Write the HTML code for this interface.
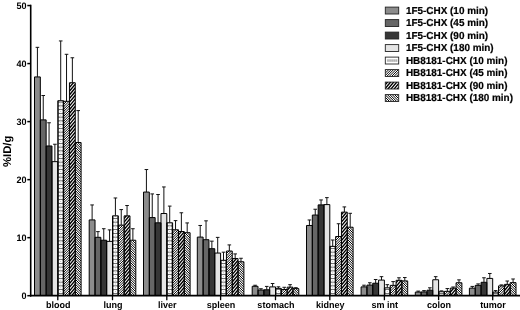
<!DOCTYPE html>
<html><head><meta charset="utf-8"><title>%ID/g biodistribution chart</title>
<style>
html,body{margin:0;padding:0;background:#fff}
body{width:520px;height:310px;overflow:hidden}
svg text{text-rendering:geometricPrecision;font-family:"Liberation Sans",Arial,Helvetica,sans-serif;font-weight:bold;fill:#000}
.t{font-size:9.3px}
.yl{font-size:11.3px}
.lg{font-size:10.2px;stroke:#000;stroke-width:0.2px}
</style></head><body>
<svg width="520" height="310" viewBox="0 0 520 310" style="display:block">
<defs>
<pattern id="p5" patternUnits="userSpaceOnUse" x="0" y="0.9" width="5.825" height="3.85"><rect width="5.825" height="3.85" fill="#fff"/><rect x="1.3" y="0" width="3.3" height="0.75" fill="#777"/><rect x="2.45" y="1.95" width="0.95" height="0.8" fill="#999"/></pattern>
<pattern id="p5l" patternUnits="userSpaceOnUse" x="386.6" y="0" width="1.9" height="12.5"><rect width="1.9" height="12.5" fill="#fff"/><rect x="0.3" y="0" width="1.1" height="12.5" fill="#888"/></pattern>
<clipPath id="c4"><rect x="57.80" y="100.72" width="5.83" height="194.98"/><rect x="112.50" y="215.85" width="5.83" height="79.85"/><rect x="166.80" y="222.81" width="5.83" height="72.89"/><rect x="220.60" y="260.30" width="5.83" height="35.40"/><rect x="275.50" y="288.39" width="5.83" height="7.31"/><rect x="329.80" y="246.37" width="5.83" height="49.33"/><rect x="384.40" y="287.87" width="5.83" height="7.83"/><rect x="438.60" y="291.75" width="5.83" height="3.95"/><rect x="492.70" y="292.10" width="5.83" height="3.60"/></clipPath>
<clipPath id="c5"><rect x="63.62" y="101.30" width="5.83" height="194.40"/><rect x="118.33" y="225.14" width="5.83" height="70.56"/><rect x="172.62" y="229.78" width="5.83" height="65.92"/><rect x="226.43" y="251.02" width="5.83" height="44.68"/><rect x="281.32" y="289.49" width="5.83" height="6.21"/><rect x="335.62" y="236.51" width="5.83" height="59.19"/><rect x="390.23" y="285.37" width="5.83" height="10.33"/><rect x="444.43" y="291.35" width="5.83" height="4.35"/><rect x="498.52" y="285.89" width="5.83" height="9.81"/><rect x="385.30" y="69.60" width="13.40" height="6.90"/></clipPath>
<clipPath id="c6"><rect x="69.45" y="82.73" width="5.83" height="212.97"/><rect x="124.15" y="215.85" width="5.83" height="79.85"/><rect x="178.45" y="231.52" width="5.83" height="64.18"/><rect x="232.25" y="258.56" width="5.83" height="37.14"/><rect x="287.15" y="287.17" width="5.83" height="8.53"/><rect x="341.45" y="212.14" width="5.83" height="83.56"/><rect x="396.05" y="280.32" width="5.83" height="15.38"/><rect x="450.25" y="288.16" width="5.83" height="7.54"/><rect x="504.35" y="284.38" width="5.83" height="11.32"/><rect x="385.30" y="82.10" width="13.40" height="6.90"/></clipPath>
<clipPath id="c7"><rect x="75.28" y="142.50" width="5.83" height="153.20"/><rect x="129.97" y="240.22" width="5.83" height="55.48"/><rect x="184.28" y="232.68" width="5.83" height="63.02"/><rect x="238.08" y="261.75" width="5.83" height="33.95"/><rect x="292.97" y="288.62" width="5.83" height="7.08"/><rect x="347.27" y="227.22" width="5.83" height="68.48"/><rect x="401.88" y="280.90" width="5.83" height="14.80"/><rect x="456.07" y="282.76" width="5.83" height="12.94"/><rect x="510.17" y="282.64" width="5.83" height="13.06"/><rect x="385.30" y="94.60" width="13.40" height="6.90"/></clipPath>
</defs>
<rect width="520" height="310" fill="#fff"/>
<path d="M37.41 76.93V47.33M35.61 47.33H39.21M43.24 119.87V95.50M41.44 95.50H45.04M49.06 145.98V122.77M47.26 122.77H50.86M54.89 161.65V144.24M53.09 144.24H56.69M60.71 100.72V40.95M58.91 40.95H62.51M66.54 101.30V54.30M64.74 54.30H68.34M72.36 82.73V57.78M70.56 57.78H74.16M78.19 142.50V110.58M76.39 110.58H79.99M92.11 219.91V204.94M90.31 204.94H93.91M97.94 237.32V231.63M96.14 231.63H99.74M103.76 240.22V228.73M101.96 228.73H105.56M109.59 241.38V229.89M107.79 229.89H111.39M115.41 215.85V197.98M113.61 197.98H117.21M121.24 225.14V209.58M119.44 209.58H123.04M127.06 215.85V205.52M125.26 205.52H128.86M132.89 240.22V228.73M131.09 228.73H134.69M146.41 192.06V169.54M144.61 169.54H148.21M152.24 217.59V193.92M150.44 193.92H154.04M158.06 222.81V194.50M156.26 194.50H159.86M163.89 213.53V186.95M162.09 186.95H165.69M169.71 222.81V206.10M167.91 206.10H171.51M175.54 229.78V220.61M173.74 220.61H177.34M181.36 231.52V212.78M179.56 212.78H183.16M187.19 232.68V222.93M185.39 222.93H188.99M200.21 237.09V225.48M198.41 225.48H202.01M206.04 239.70V220.84M204.24 220.84H207.84M211.86 248.70V241.15M210.06 241.15H213.66M217.69 253.05V237.38M215.89 237.38H219.49M223.51 260.30V252.18M221.71 252.18H225.31M229.34 251.02V244.92M227.54 244.92H231.14M235.16 258.56V253.92M233.36 253.92H236.96M240.99 261.75V258.27M239.19 258.27H242.79M255.11 286.30V285.25M253.31 285.25H256.91M260.94 290.07V288.74M259.14 288.74H262.74M266.76 289.78V286.42M264.96 286.42H268.56M272.59 286.88V283.51M270.79 283.51H274.39M278.41 288.39V286.82M276.61 286.82H280.21M284.24 289.49V287.29M282.44 287.29H286.04M290.06 287.17V284.67M288.26 284.67H291.86M295.89 288.62V287.69M294.09 287.69H297.69M309.41 225.48V219.97M307.61 219.97H311.21M315.24 215.04V209.24M313.44 209.24H317.04M321.06 204.88V199.95M319.26 199.95H322.86M326.89 204.59V197.63M325.09 197.63H328.69M332.71 246.37V239.99M330.91 239.99H334.51M338.54 236.51V223.74M336.74 223.74H340.34M344.36 212.14V206.91M342.56 206.91H346.16M350.19 227.22V213.30M348.39 213.30H351.99M364.01 286.88V285.20M362.21 285.20H365.81M369.84 285.08V282.76M368.04 282.76H371.64M375.66 283.22V279.51M373.86 279.51H377.46M381.49 280.09V276.67M379.69 276.67H383.29M387.31 287.87V284.67M385.51 284.67H389.11M393.14 285.37V281.60M391.34 281.60H394.94M398.96 280.32V277.77M397.16 277.77H400.76M404.79 280.90V277.54M402.99 277.54H406.59M418.21 292.10V291.12M416.41 291.12H420.01M424.04 291.93V290.59M422.24 290.59H425.84M429.86 290.19V287.81M428.06 287.81H431.66M435.69 279.74V276.67M433.89 276.67H437.49M441.51 291.75V290.88M439.71 290.88H443.31M447.34 291.35V288.56M445.54 288.56H449.14M453.16 288.16V287.00M451.36 287.00H454.96M458.99 282.76V279.86M457.19 279.86H460.79M472.31 288.16V286.42M470.51 286.42H474.11M478.14 285.37V283.92M476.34 283.92H479.94M483.96 282.30V277.77M482.16 277.77H485.76M489.79 278.41V273.47M487.99 273.47H491.59M495.61 292.10V290.59M493.81 290.59H497.41M501.44 285.89V284.91M499.64 284.91H503.24M507.26 284.38V281.02M505.46 281.02H509.06M513.09 282.64V278.99M511.29 278.99H514.89" stroke="#111" stroke-width="1" fill="none"/>
<rect x="34.50" y="76.93" width="5.83" height="218.77" fill="#8c8c8c"/>
<rect x="40.33" y="119.87" width="5.83" height="175.83" fill="#666666"/>
<rect x="46.15" y="145.98" width="5.83" height="149.72" fill="#363636"/>
<rect x="51.98" y="161.65" width="5.83" height="134.05" fill="#e4e4e4"/>
<rect x="57.80" y="100.72" width="5.83" height="194.98" fill="#fff"/>
<rect x="63.62" y="101.30" width="5.83" height="194.40" fill="#fff"/>
<rect x="69.45" y="82.73" width="5.83" height="212.97" fill="#fff"/>
<rect x="75.28" y="142.50" width="5.83" height="153.20" fill="#fff"/>
<rect x="89.20" y="219.91" width="5.83" height="75.79" fill="#8c8c8c"/>
<rect x="95.03" y="237.32" width="5.83" height="58.38" fill="#666666"/>
<rect x="100.85" y="240.22" width="5.83" height="55.48" fill="#363636"/>
<rect x="106.68" y="241.38" width="5.83" height="54.32" fill="#e4e4e4"/>
<rect x="112.50" y="215.85" width="5.83" height="79.85" fill="#fff"/>
<rect x="118.33" y="225.14" width="5.83" height="70.56" fill="#fff"/>
<rect x="124.15" y="215.85" width="5.83" height="79.85" fill="#fff"/>
<rect x="129.97" y="240.22" width="5.83" height="55.48" fill="#fff"/>
<rect x="143.50" y="192.06" width="5.83" height="103.64" fill="#8c8c8c"/>
<rect x="149.32" y="217.59" width="5.83" height="78.11" fill="#666666"/>
<rect x="155.15" y="222.81" width="5.83" height="72.89" fill="#363636"/>
<rect x="160.97" y="213.53" width="5.83" height="82.17" fill="#e4e4e4"/>
<rect x="166.80" y="222.81" width="5.83" height="72.89" fill="#fff"/>
<rect x="172.62" y="229.78" width="5.83" height="65.92" fill="#fff"/>
<rect x="178.45" y="231.52" width="5.83" height="64.18" fill="#fff"/>
<rect x="184.28" y="232.68" width="5.83" height="63.02" fill="#fff"/>
<rect x="197.30" y="237.09" width="5.83" height="58.61" fill="#8c8c8c"/>
<rect x="203.12" y="239.70" width="5.83" height="56.00" fill="#666666"/>
<rect x="208.95" y="248.70" width="5.83" height="47.00" fill="#363636"/>
<rect x="214.78" y="253.05" width="5.83" height="42.65" fill="#e4e4e4"/>
<rect x="220.60" y="260.30" width="5.83" height="35.40" fill="#fff"/>
<rect x="226.43" y="251.02" width="5.83" height="44.68" fill="#fff"/>
<rect x="232.25" y="258.56" width="5.83" height="37.14" fill="#fff"/>
<rect x="238.08" y="261.75" width="5.83" height="33.95" fill="#fff"/>
<rect x="252.20" y="286.30" width="5.83" height="9.40" fill="#8c8c8c"/>
<rect x="258.02" y="290.07" width="5.83" height="5.63" fill="#666666"/>
<rect x="263.85" y="289.78" width="5.83" height="5.92" fill="#363636"/>
<rect x="269.68" y="286.88" width="5.83" height="8.82" fill="#e4e4e4"/>
<rect x="275.50" y="288.39" width="5.83" height="7.31" fill="#fff"/>
<rect x="281.32" y="289.49" width="5.83" height="6.21" fill="#fff"/>
<rect x="287.15" y="287.17" width="5.83" height="8.53" fill="#fff"/>
<rect x="292.97" y="288.62" width="5.83" height="7.08" fill="#fff"/>
<rect x="306.50" y="225.48" width="5.83" height="70.22" fill="#8c8c8c"/>
<rect x="312.32" y="215.04" width="5.83" height="80.66" fill="#666666"/>
<rect x="318.15" y="204.88" width="5.83" height="90.82" fill="#363636"/>
<rect x="323.98" y="204.59" width="5.83" height="91.11" fill="#e4e4e4"/>
<rect x="329.80" y="246.37" width="5.83" height="49.33" fill="#fff"/>
<rect x="335.62" y="236.51" width="5.83" height="59.19" fill="#fff"/>
<rect x="341.45" y="212.14" width="5.83" height="83.56" fill="#fff"/>
<rect x="347.27" y="227.22" width="5.83" height="68.48" fill="#fff"/>
<rect x="361.10" y="286.88" width="5.83" height="8.82" fill="#8c8c8c"/>
<rect x="366.93" y="285.08" width="5.83" height="10.62" fill="#666666"/>
<rect x="372.75" y="283.22" width="5.83" height="12.48" fill="#363636"/>
<rect x="378.58" y="280.09" width="5.83" height="15.61" fill="#e4e4e4"/>
<rect x="384.40" y="287.87" width="5.83" height="7.83" fill="#fff"/>
<rect x="390.23" y="285.37" width="5.83" height="10.33" fill="#fff"/>
<rect x="396.05" y="280.32" width="5.83" height="15.38" fill="#fff"/>
<rect x="401.88" y="280.90" width="5.83" height="14.80" fill="#fff"/>
<rect x="415.30" y="292.10" width="5.83" height="3.60" fill="#8c8c8c"/>
<rect x="421.12" y="291.93" width="5.83" height="3.77" fill="#666666"/>
<rect x="426.95" y="290.19" width="5.83" height="5.51" fill="#363636"/>
<rect x="432.78" y="279.74" width="5.83" height="15.96" fill="#e4e4e4"/>
<rect x="438.60" y="291.75" width="5.83" height="3.95" fill="#fff"/>
<rect x="444.43" y="291.35" width="5.83" height="4.35" fill="#fff"/>
<rect x="450.25" y="288.16" width="5.83" height="7.54" fill="#fff"/>
<rect x="456.07" y="282.76" width="5.83" height="12.94" fill="#fff"/>
<rect x="469.40" y="288.16" width="5.83" height="7.54" fill="#8c8c8c"/>
<rect x="475.22" y="285.37" width="5.83" height="10.33" fill="#666666"/>
<rect x="481.05" y="282.30" width="5.83" height="13.40" fill="#363636"/>
<rect x="486.88" y="278.41" width="5.83" height="17.29" fill="#e4e4e4"/>
<rect x="492.70" y="292.10" width="5.83" height="3.60" fill="#fff"/>
<rect x="498.52" y="285.89" width="5.83" height="9.81" fill="#fff"/>
<rect x="504.35" y="284.38" width="5.83" height="11.32" fill="#fff"/>
<rect x="510.17" y="282.64" width="5.83" height="13.06" fill="#fff"/>
<path clip-path="url(#c5)" d="M63.12 100.07L69.95 93.25M63.12 102.47L69.95 95.65M63.12 104.88L69.95 98.05M63.12 107.28L69.95 100.45M63.12 109.68L69.95 102.85M63.12 112.08L69.95 105.25M63.12 114.48L69.95 107.65M63.12 116.88L69.95 110.05M63.12 119.28L69.95 112.45M63.12 121.68L69.95 114.85M63.12 124.08L69.95 117.25M63.12 126.48L69.95 119.65M63.12 128.88L69.95 122.05M63.12 131.28L69.95 124.45M63.12 133.68L69.95 126.85M63.12 136.08L69.95 129.25M63.12 138.48L69.95 131.65M63.12 140.88L69.95 134.05M63.12 143.28L69.95 136.45M63.12 145.68L69.95 138.85M63.12 148.08L69.95 141.25M63.12 150.48L69.95 143.65M63.12 152.88L69.95 146.05M63.12 155.28L69.95 148.45M63.12 157.68L69.95 150.85M63.12 160.08L69.95 153.25M63.12 162.48L69.95 155.65M63.12 164.88L69.95 158.05M63.12 167.28L69.95 160.45M63.12 169.68L69.95 162.85M63.12 172.08L69.95 165.25M63.12 174.48L69.95 167.65M63.12 176.88L69.95 170.05M63.12 179.28L69.95 172.45M63.12 181.68L69.95 174.85M63.12 184.08L69.95 177.25M63.12 186.48L69.95 179.65M63.12 188.88L69.95 182.05M63.12 191.28L69.95 184.45M63.12 193.68L69.95 186.85M63.12 196.08L69.95 189.25M63.12 198.48L69.95 191.65M63.12 200.88L69.95 194.05M63.12 203.28L69.95 196.45M63.12 205.68L69.95 198.85M63.12 208.08L69.95 201.25M63.12 210.48L69.95 203.65M63.12 212.88L69.95 206.05M63.12 215.27L69.95 208.45M63.12 217.67L69.95 210.85M63.12 220.07L69.95 213.25M63.12 222.47L69.95 215.65M63.12 224.87L69.95 218.05M63.12 227.27L69.95 220.45M63.12 229.67L69.95 222.85M63.12 232.07L69.95 225.25M63.12 234.47L69.95 227.65M63.12 236.87L69.95 230.05M63.12 239.27L69.95 232.45M63.12 241.67L69.95 234.85M63.12 244.07L69.95 237.25M63.12 246.47L69.95 239.65M63.12 248.87L69.95 242.05M63.12 251.27L69.95 244.45M63.12 253.67L69.95 246.85M63.12 256.07L69.95 249.25M63.12 258.47L69.95 251.65M63.12 260.87L69.95 254.05M63.12 263.27L69.95 256.45M63.12 265.67L69.95 258.85M63.12 268.07L69.95 261.25M63.12 270.47L69.95 263.65M63.12 272.87L69.95 266.05M63.12 275.27L69.95 268.45M63.12 277.67L69.95 270.85M63.12 280.07L69.95 273.25M63.12 282.47L69.95 275.65M63.12 284.87L69.95 278.05M63.12 287.27L69.95 280.45M63.12 289.67L69.95 282.85M63.12 292.07L69.95 285.25M63.12 294.47L69.95 287.65M63.12 296.87L69.95 290.05M63.12 299.27L69.95 292.45M63.12 301.67L69.95 294.85M63.12 304.07L69.95 297.25M117.83 222.98L124.65 216.15M117.83 225.38L124.65 218.55M117.83 227.77L124.65 220.95M117.83 230.17L124.65 223.35M117.83 232.57L124.65 225.75M117.83 234.97L124.65 228.15M117.83 237.37L124.65 230.55M117.83 239.77L124.65 232.95M117.83 242.17L124.65 235.35M117.83 244.57L124.65 237.75M117.83 246.97L124.65 240.15M117.83 249.37L124.65 242.55M117.83 251.77L124.65 244.95M117.83 254.17L124.65 247.35M117.83 256.57L124.65 249.75M117.83 258.97L124.65 252.15M117.83 261.37L124.65 254.55M117.83 263.77L124.65 256.95M117.83 266.17L124.65 259.35M117.83 268.57L124.65 261.75M117.83 270.97L124.65 264.15M117.83 273.37L124.65 266.55M117.83 275.77L124.65 268.95M117.83 278.17L124.65 271.35M117.83 280.57L124.65 273.75M117.83 282.97L124.65 276.15M117.83 285.37L124.65 278.55M117.83 287.77L124.65 280.95M117.83 290.17L124.65 283.35M117.83 292.57L124.65 285.75M117.83 294.97L124.65 288.15M117.83 297.37L124.65 290.55M117.83 299.77L124.65 292.95M117.83 302.17L124.65 295.35M117.83 304.57L124.65 297.75M172.12 228.68L178.95 221.85M172.12 231.08L178.95 224.25M172.12 233.47L178.95 226.65M172.12 235.87L178.95 229.05M172.12 238.27L178.95 231.45M172.12 240.67L178.95 233.85M172.12 243.07L178.95 236.25M172.12 245.47L178.95 238.65M172.12 247.87L178.95 241.05M172.12 250.27L178.95 243.45M172.12 252.67L178.95 245.85M172.12 255.07L178.95 248.25M172.12 257.47L178.95 250.65M172.12 259.87L178.95 253.05M172.12 262.27L178.95 255.45M172.12 264.67L178.95 257.85M172.12 267.07L178.95 260.25M172.12 269.47L178.95 262.65M172.12 271.87L178.95 265.05M172.12 274.27L178.95 267.45M172.12 276.67L178.95 269.85M172.12 279.07L178.95 272.25M172.12 281.47L178.95 274.65M172.12 283.87L178.95 277.05M172.12 286.27L178.95 279.45M172.12 288.67L178.95 281.85M172.12 291.07L178.95 284.25M172.12 293.47L178.95 286.65M172.12 295.87L178.95 289.05M172.12 298.27L178.95 291.45M172.12 300.67L178.95 293.85M172.12 303.07L178.95 296.25M225.93 249.28L232.75 242.45M225.93 251.67L232.75 244.85M225.93 254.07L232.75 247.25M225.93 256.47L232.75 249.65M225.93 258.87L232.75 252.05M225.93 261.27L232.75 254.45M225.93 263.67L232.75 256.85M225.93 266.07L232.75 259.25M225.93 268.47L232.75 261.65M225.93 270.87L232.75 264.05M225.93 273.27L232.75 266.45M225.93 275.67L232.75 268.85M225.93 278.07L232.75 271.25M225.93 280.47L232.75 273.65M225.93 282.87L232.75 276.05M225.93 285.27L232.75 278.45M225.93 287.67L232.75 280.85M225.93 290.07L232.75 283.25M225.93 292.47L232.75 285.65M225.93 294.87L232.75 288.05M225.93 297.27L232.75 290.45M225.93 299.67L232.75 292.85M225.93 302.07L232.75 295.25M225.93 304.47L232.75 297.65M280.82 287.98L287.65 281.15M280.82 290.38L287.65 283.55M280.82 292.77L287.65 285.95M280.82 295.17L287.65 288.35M280.82 297.57L287.65 290.75M280.82 299.97L287.65 293.15M280.82 302.37L287.65 295.55M280.82 304.77L287.65 297.95M335.12 236.07L341.95 229.25M335.12 238.47L341.95 231.65M335.12 240.87L341.95 234.05M335.12 243.27L341.95 236.45M335.12 245.67L341.95 238.85M335.12 248.07L341.95 241.25M335.12 250.47L341.95 243.65M335.12 252.87L341.95 246.05M335.12 255.27L341.95 248.45M335.12 257.67L341.95 250.85M335.12 260.07L341.95 253.25M335.12 262.47L341.95 255.65M335.12 264.87L341.95 258.05M335.12 267.27L341.95 260.45M335.12 269.67L341.95 262.85M335.12 272.07L341.95 265.25M335.12 274.47L341.95 267.65M335.12 276.87L341.95 270.05M335.12 279.27L341.95 272.45M335.12 281.67L341.95 274.85M335.12 284.07L341.95 277.25M335.12 286.47L341.95 279.65M335.12 288.87L341.95 282.05M335.12 291.27L341.95 284.45M335.12 293.67L341.95 286.85M335.12 296.07L341.95 289.25M335.12 298.47L341.95 291.65M335.12 300.87L341.95 294.05M335.12 303.27L341.95 296.45M389.73 284.68L396.55 277.85M389.73 287.07L396.55 280.25M389.73 289.47L396.55 282.65M389.73 291.87L396.55 285.05M389.73 294.27L396.55 287.45M389.73 296.67L396.55 289.85M389.73 299.07L396.55 292.25M389.73 301.47L396.55 294.65M389.73 303.87L396.55 297.05M443.93 290.48L450.75 283.65M443.93 292.88L450.75 286.05M443.93 295.27L450.75 288.45M443.93 297.67L450.75 290.85M443.93 300.07L450.75 293.25M443.93 302.47L450.75 295.65M443.93 304.87L450.75 298.05M498.02 284.38L504.85 277.55M498.02 286.78L504.85 279.95M498.02 289.18L504.85 282.35M498.02 291.57L504.85 284.75M498.02 293.97L504.85 287.15M498.02 296.37L504.85 289.55M498.02 298.77L504.85 291.95M498.02 301.17L504.85 294.35M498.02 303.57L504.85 296.75M384.80 68.80L399.20 54.40M384.80 71.20L399.20 56.80M384.80 73.60L399.20 59.20M384.80 76.00L399.20 61.60M384.80 78.40L399.20 64.00M384.80 80.80L399.20 66.40M384.80 83.20L399.20 68.80M384.80 85.60L399.20 71.20M384.80 88.00L399.20 73.60M384.80 90.40L399.20 76.00M384.80 92.80L399.20 78.40" stroke="#000" stroke-width="0.98" fill="none"/>
<path clip-path="url(#c6)" d="M68.95 80.63L75.78 72.49M68.95 84.33L75.78 76.19M68.95 88.03L75.78 79.89M68.95 91.73L75.78 83.59M68.95 95.43L75.78 87.29M68.95 99.13L75.78 90.99M68.95 102.83L75.78 94.69M68.95 106.53L75.78 98.39M68.95 110.23L75.78 102.09M68.95 113.93L75.78 105.79M68.95 117.63L75.78 109.49M68.95 121.33L75.78 113.19M68.95 125.03L75.78 116.89M68.95 128.73L75.78 120.59M68.95 132.43L75.78 124.29M68.95 136.13L75.78 127.99M68.95 139.83L75.78 131.69M68.95 143.53L75.78 135.39M68.95 147.23L75.78 139.09M68.95 150.93L75.78 142.79M68.95 154.63L75.78 146.49M68.95 158.33L75.78 150.19M68.95 162.03L75.78 153.89M68.95 165.73L75.78 157.59M68.95 169.43L75.78 161.29M68.95 173.13L75.78 164.99M68.95 176.83L75.78 168.69M68.95 180.53L75.78 172.39M68.95 184.23L75.78 176.09M68.95 187.93L75.78 179.79M68.95 191.63L75.78 183.49M68.95 195.33L75.78 187.19M68.95 199.03L75.78 190.89M68.95 202.73L75.78 194.59M68.95 206.43L75.78 198.29M68.95 210.13L75.78 201.99M68.95 213.83L75.78 205.69M68.95 217.53L75.78 209.39M68.95 221.23L75.78 213.09M68.95 224.93L75.78 216.79M68.95 228.63L75.78 220.49M68.95 232.33L75.78 224.19M68.95 236.03L75.78 227.89M68.95 239.73L75.78 231.59M68.95 243.43L75.78 235.29M68.95 247.13L75.78 238.99M68.95 250.83L75.78 242.69M68.95 254.53L75.78 246.39M68.95 258.23L75.78 250.09M68.95 261.93L75.78 253.79M68.95 265.63L75.78 257.49M68.95 269.33L75.78 261.19M68.95 273.03L75.78 264.89M68.95 276.73L75.78 268.59M68.95 280.43L75.78 272.29M68.95 284.13L75.78 275.99M68.95 287.83L75.78 279.69M68.95 291.53L75.78 283.39M68.95 295.23L75.78 287.09M68.95 298.93L75.78 290.79M68.95 302.63L75.78 294.49M68.95 306.33L75.78 298.19M123.65 215.24L130.47 207.11M123.65 218.94L130.47 210.81M123.65 222.64L130.47 214.51M123.65 226.34L130.47 218.21M123.65 230.04L130.47 221.91M123.65 233.74L130.47 225.61M123.65 237.44L130.47 229.31M123.65 241.14L130.47 233.01M123.65 244.84L130.47 236.71M123.65 248.54L130.47 240.41M123.65 252.24L130.47 244.11M123.65 255.94L130.47 247.81M123.65 259.64L130.47 251.51M123.65 263.34L130.47 255.21M123.65 267.04L130.47 258.91M123.65 270.74L130.47 262.61M123.65 274.44L130.47 266.31M123.65 278.14L130.47 270.01M123.65 281.84L130.47 273.71M123.65 285.54L130.47 277.41M123.65 289.24L130.47 281.11M123.65 292.94L130.47 284.81M123.65 296.64L130.47 288.51M123.65 300.34L130.47 292.21M123.65 304.04L130.47 295.91M177.95 228.23L184.77 220.09M177.95 231.93L184.77 223.79M177.95 235.63L184.77 227.49M177.95 239.33L184.77 231.19M177.95 243.03L184.77 234.89M177.95 246.73L184.77 238.59M177.95 250.43L184.77 242.29M177.95 254.13L184.77 245.99M177.95 257.83L184.77 249.69M177.95 261.53L184.77 253.39M177.95 265.23L184.77 257.09M177.95 268.93L184.77 260.79M177.95 272.63L184.77 264.49M177.95 276.33L184.77 268.19M177.95 280.03L184.77 271.89M177.95 283.73L184.77 275.59M177.95 287.43L184.77 279.29M177.95 291.13L184.77 282.99M177.95 294.83L184.77 286.69M177.95 298.53L184.77 290.39M177.95 302.23L184.77 294.09M177.95 305.93L184.77 297.79M231.75 256.61L238.57 248.48M231.75 260.31L238.57 252.18M231.75 264.01L238.57 255.88M231.75 267.71L238.57 259.58M231.75 271.41L238.57 263.28M231.75 275.11L238.57 266.98M231.75 278.81L238.57 270.68M231.75 282.51L238.57 274.38M231.75 286.21L238.57 278.08M231.75 289.91L238.57 281.78M231.75 293.61L238.57 285.48M231.75 297.31L238.57 289.18M231.75 301.01L238.57 292.88M231.75 304.71L238.57 296.58M286.65 283.68L293.47 275.55M286.65 287.38L293.47 279.25M286.65 291.08L293.47 282.95M286.65 294.78L293.47 286.65M286.65 298.48L293.47 290.35M286.65 302.18L293.47 294.05M286.65 305.88L293.47 297.75M340.95 211.57L347.77 203.44M340.95 215.27L347.77 207.14M340.95 218.97L347.77 210.84M340.95 222.67L347.77 214.54M340.95 226.37L347.77 218.24M340.95 230.07L347.77 221.94M340.95 233.77L347.77 225.64M340.95 237.47L347.77 229.34M340.95 241.17L347.77 233.04M340.95 244.87L347.77 236.74M340.95 248.57L347.77 240.44M340.95 252.27L347.77 244.14M340.95 255.97L347.77 247.84M340.95 259.67L347.77 251.54M340.95 263.37L347.77 255.24M340.95 267.07L347.77 258.94M340.95 270.77L347.77 262.64M340.95 274.47L347.77 266.34M340.95 278.17L347.77 270.04M340.95 281.87L347.77 273.74M340.95 285.57L347.77 277.44M340.95 289.27L347.77 281.14M340.95 292.97L347.77 284.84M340.95 296.67L347.77 288.54M340.95 300.37L347.77 292.24M340.95 304.07L347.77 295.94M395.55 279.70L402.38 271.57M395.55 283.40L402.38 275.27M395.55 287.10L402.38 278.97M395.55 290.80L402.38 282.67M395.55 294.50L402.38 286.37M395.55 298.20L402.38 290.07M395.55 301.90L402.38 293.77M395.55 305.60L402.38 297.47M449.75 285.41L456.57 277.28M449.75 289.11L456.57 280.98M449.75 292.81L456.57 284.68M449.75 296.51L456.57 288.38M449.75 300.21L456.57 292.08M449.75 303.91L456.57 295.78M503.85 283.83L510.67 275.70M503.85 287.53L510.67 279.40M503.85 291.23L510.67 283.10M503.85 294.93L510.67 286.80M503.85 298.63L510.67 290.50M503.85 302.33L510.67 294.20M503.85 306.03L510.67 297.90M384.80 81.61L399.20 64.45M384.80 85.31L399.20 68.15M384.80 89.01L399.20 71.85M384.80 92.71L399.20 75.55M384.80 96.41L399.20 79.25M384.80 100.11L399.20 82.95M384.80 103.81L399.20 86.65M384.80 107.51L399.20 90.35" stroke="#000" stroke-width="1.4" fill="none"/>
<path clip-path="url(#c7)" d="M74.78 134.77L81.60 141.60M74.78 137.17L81.60 144.00M74.78 139.57L81.60 146.40M74.78 141.97L81.60 148.80M74.78 144.38L81.60 151.20M74.78 146.78L81.60 153.60M74.78 149.18L81.60 156.00M74.78 151.58L81.60 158.40M74.78 153.98L81.60 160.80M74.78 156.38L81.60 163.20M74.78 158.78L81.60 165.60M74.78 161.18L81.60 168.00M74.78 163.58L81.60 170.40M74.78 165.98L81.60 172.80M74.78 168.38L81.60 175.20M74.78 170.78L81.60 177.60M74.78 173.18L81.60 180.00M74.78 175.58L81.60 182.40M74.78 177.98L81.60 184.80M74.78 180.38L81.60 187.20M74.78 182.78L81.60 189.60M74.78 185.18L81.60 192.00M74.78 187.58L81.60 194.40M74.78 189.98L81.60 196.80M74.78 192.38L81.60 199.20M74.78 194.78L81.60 201.60M74.78 197.18L81.60 204.00M74.78 199.58L81.60 206.40M74.78 201.98L81.60 208.80M74.78 204.38L81.60 211.20M74.78 206.78L81.60 213.60M74.78 209.18L81.60 216.00M74.78 211.58L81.60 218.40M74.78 213.98L81.60 220.80M74.78 216.38L81.60 223.20M74.78 218.78L81.60 225.60M74.78 221.18L81.60 228.00M74.78 223.58L81.60 230.40M74.78 225.98L81.60 232.80M74.78 228.38L81.60 235.20M74.78 230.78L81.60 237.60M74.78 233.18L81.60 240.00M74.78 235.58L81.60 242.40M74.78 237.98L81.60 244.80M74.78 240.38L81.60 247.20M74.78 242.78L81.60 249.60M74.78 245.18L81.60 252.00M74.78 247.58L81.60 254.40M74.78 249.98L81.60 256.80M74.78 252.38L81.60 259.20M74.78 254.78L81.60 261.60M74.78 257.18L81.60 264.00M74.78 259.58L81.60 266.40M74.78 261.98L81.60 268.80M74.78 264.38L81.60 271.20M74.78 266.78L81.60 273.60M74.78 269.18L81.60 276.00M74.78 271.58L81.60 278.40M74.78 273.98L81.60 280.80M74.78 276.38L81.60 283.20M74.78 278.78L81.60 285.60M74.78 281.18L81.60 288.00M74.78 283.58L81.60 290.40M74.78 285.98L81.60 292.80M74.78 288.38L81.60 295.20M74.78 290.78L81.60 297.60M74.78 293.18L81.60 300.00M74.78 295.58L81.60 302.40M74.78 297.98L81.60 304.80M129.47 232.67L136.30 239.50M129.47 235.07L136.30 241.90M129.47 237.47L136.30 244.30M129.47 239.88L136.30 246.70M129.47 242.27L136.30 249.10M129.47 244.68L136.30 251.50M129.47 247.07L136.30 253.90M129.47 249.48L136.30 256.30M129.47 251.88L136.30 258.70M129.47 254.28L136.30 261.10M129.47 256.68L136.30 263.50M129.47 259.08L136.30 265.90M129.47 261.48L136.30 268.30M129.47 263.88L136.30 270.70M129.47 266.28L136.30 273.10M129.47 268.68L136.30 275.50M129.47 271.08L136.30 277.90M129.47 273.48L136.30 280.30M129.47 275.88L136.30 282.70M129.47 278.28L136.30 285.10M129.47 280.68L136.30 287.50M129.47 283.08L136.30 289.90M129.47 285.48L136.30 292.30M129.47 287.88L136.30 294.70M129.47 290.28L136.30 297.10M129.47 292.68L136.30 299.50M129.47 295.08L136.30 301.90M129.47 297.48L136.30 304.30M183.78 224.57L190.60 231.40M183.78 226.97L190.60 233.80M183.78 229.37L190.60 236.20M183.78 231.77L190.60 238.60M183.78 234.17L190.60 241.00M183.78 236.57L190.60 243.40M183.78 238.97L190.60 245.80M183.78 241.37L190.60 248.20M183.78 243.77L190.60 250.60M183.78 246.17L190.60 253.00M183.78 248.57L190.60 255.40M183.78 250.97L190.60 257.80M183.78 253.37L190.60 260.20M183.78 255.77L190.60 262.60M183.78 258.17L190.60 265.00M183.78 260.57L190.60 267.40M183.78 262.98L190.60 269.80M183.78 265.38L190.60 272.20M183.78 267.77L190.60 274.60M183.78 270.18L190.60 277.00M183.78 272.58L190.60 279.40M183.78 274.98L190.60 281.80M183.78 277.38L190.60 284.20M183.78 279.78L190.60 286.60M183.78 282.18L190.60 289.00M183.78 284.58L190.60 291.40M183.78 286.98L190.60 293.80M183.78 289.38L190.60 296.20M183.78 291.78L190.60 298.60M183.78 294.18L190.60 301.00M183.78 296.58L190.60 303.40M237.58 254.38L244.40 261.20M237.58 256.77L244.40 263.60M237.58 259.18L244.40 266.00M237.58 261.57L244.40 268.40M237.58 263.97L244.40 270.80M237.58 266.38L244.40 273.20M237.58 268.77L244.40 275.60M237.58 271.17L244.40 278.00M237.58 273.57L244.40 280.40M237.58 275.97L244.40 282.80M237.58 278.38L244.40 285.20M237.58 280.77L244.40 287.60M237.58 283.17L244.40 290.00M237.58 285.57L244.40 292.40M237.58 287.97L244.40 294.80M237.58 290.38L244.40 297.20M237.58 292.77L244.40 299.60M237.58 295.17L244.40 302.00M237.58 297.57L244.40 304.40M292.47 280.47L299.30 287.30M292.47 282.87L299.30 289.70M292.47 285.27L299.30 292.10M292.47 287.67L299.30 294.50M292.47 290.07L299.30 296.90M292.47 292.47L299.30 299.30M292.47 294.87L299.30 301.70M292.47 297.27L299.30 304.10M346.77 219.57L353.60 226.40M346.77 221.97L353.60 228.80M346.77 224.37L353.60 231.20M346.77 226.77L353.60 233.60M346.77 229.17L353.60 236.00M346.77 231.57L353.60 238.40M346.77 233.97L353.60 240.80M346.77 236.37L353.60 243.20M346.77 238.77L353.60 245.60M346.77 241.17L353.60 248.00M346.77 243.57L353.60 250.40M346.77 245.97L353.60 252.80M346.77 248.38L353.60 255.20M346.77 250.78L353.60 257.60M346.77 253.18L353.60 260.00M346.77 255.58L353.60 262.40M346.77 257.98L353.60 264.80M346.77 260.38L353.60 267.20M346.77 262.78L353.60 269.60M346.77 265.18L353.60 272.00M346.77 267.58L353.60 274.40M346.77 269.98L353.60 276.80M346.77 272.38L353.60 279.20M346.77 274.78L353.60 281.60M346.77 277.18L353.60 284.00M346.77 279.58L353.60 286.40M346.77 281.98L353.60 288.80M346.77 284.38L353.60 291.20M346.77 286.78L353.60 293.60M346.77 289.18L353.60 296.00M346.77 291.58L353.60 298.40M346.77 293.98L353.60 300.80M346.77 296.38L353.60 303.20M401.38 271.77L408.20 278.60M401.38 274.17L408.20 281.00M401.38 276.57L408.20 283.40M401.38 278.97L408.20 285.80M401.38 281.38L408.20 288.20M401.38 283.77L408.20 290.60M401.38 286.17L408.20 293.00M401.38 288.57L408.20 295.40M401.38 290.98L408.20 297.80M401.38 293.38L408.20 300.20M401.38 295.77L408.20 302.60M455.57 275.57L462.40 282.40M455.57 277.97L462.40 284.80M455.57 280.37L462.40 287.20M455.57 282.77L462.40 289.60M455.57 285.17L462.40 292.00M455.57 287.57L462.40 294.40M455.57 289.97L462.40 296.80M455.57 292.38L462.40 299.20M455.57 294.77L462.40 301.60M455.57 297.17L462.40 304.00M509.67 274.47L516.50 281.30M509.67 276.87L516.50 283.70M509.67 279.27L516.50 286.10M509.67 281.67L516.50 288.50M509.67 284.07L516.50 290.90M509.67 286.47L516.50 293.30M509.67 288.87L516.50 295.70M509.67 291.27L516.50 298.10M509.67 293.67L516.50 300.50M509.67 296.07L516.50 302.90M384.80 80.00L399.20 94.40M384.80 82.40L399.20 96.80M384.80 84.80L399.20 99.20M384.80 87.20L399.20 101.60M384.80 89.60L399.20 104.00M384.80 92.00L399.20 106.40M384.80 94.40L399.20 108.80M384.80 96.80L399.20 111.20M384.80 99.20L399.20 113.60M384.80 101.60L399.20 116.00" stroke="#000" stroke-width="1.0" fill="none"/>
<g clip-path="url(#c4)"><rect x="0" y="0" width="520" height="310" fill="#484848"/><g fill="#fff" stroke="none"><rect x="58.80" y="98.83" width="3.83" height="2.89" rx="0.8"/><rect x="58.80" y="102.58" width="3.83" height="2.89" rx="0.8"/><rect x="58.80" y="106.33" width="3.83" height="2.89" rx="0.8"/><rect x="58.80" y="110.08" width="3.83" height="2.89" rx="0.8"/><rect x="58.80" y="113.83" width="3.83" height="2.89" rx="0.8"/><rect x="58.80" y="117.58" width="3.83" height="2.89" rx="0.8"/><rect x="58.80" y="121.33" width="3.83" height="2.89" rx="0.8"/><rect x="58.80" y="125.08" width="3.83" height="2.89" rx="0.8"/><rect x="58.80" y="128.83" width="3.83" height="2.89" rx="0.8"/><rect x="58.80" y="132.58" width="3.83" height="2.89" rx="0.8"/><rect x="58.80" y="136.33" width="3.83" height="2.89" rx="0.8"/><rect x="58.80" y="140.08" width="3.83" height="2.89" rx="0.8"/><rect x="58.80" y="143.83" width="3.83" height="2.89" rx="0.8"/><rect x="58.80" y="147.58" width="3.83" height="2.89" rx="0.8"/><rect x="58.80" y="151.33" width="3.83" height="2.89" rx="0.8"/><rect x="58.80" y="155.08" width="3.83" height="2.89" rx="0.8"/><rect x="58.80" y="158.83" width="3.83" height="2.89" rx="0.8"/><rect x="58.80" y="162.58" width="3.83" height="2.89" rx="0.8"/><rect x="58.80" y="166.33" width="3.83" height="2.89" rx="0.8"/><rect x="58.80" y="170.08" width="3.83" height="2.89" rx="0.8"/><rect x="58.80" y="173.83" width="3.83" height="2.89" rx="0.8"/><rect x="58.80" y="177.58" width="3.83" height="2.89" rx="0.8"/><rect x="58.80" y="181.33" width="3.83" height="2.89" rx="0.8"/><rect x="58.80" y="185.08" width="3.83" height="2.89" rx="0.8"/><rect x="58.80" y="188.83" width="3.83" height="2.89" rx="0.8"/><rect x="58.80" y="192.58" width="3.83" height="2.89" rx="0.8"/><rect x="58.80" y="196.33" width="3.83" height="2.89" rx="0.8"/><rect x="58.80" y="200.08" width="3.83" height="2.89" rx="0.8"/><rect x="58.80" y="203.83" width="3.83" height="2.89" rx="0.8"/><rect x="58.80" y="207.58" width="3.83" height="2.89" rx="0.8"/><rect x="58.80" y="211.33" width="3.83" height="2.89" rx="0.8"/><rect x="58.80" y="215.08" width="3.83" height="2.89" rx="0.8"/><rect x="58.80" y="218.83" width="3.83" height="2.89" rx="0.8"/><rect x="58.80" y="222.58" width="3.83" height="2.89" rx="0.8"/><rect x="58.80" y="226.33" width="3.83" height="2.89" rx="0.8"/><rect x="58.80" y="230.08" width="3.83" height="2.89" rx="0.8"/><rect x="58.80" y="233.83" width="3.83" height="2.89" rx="0.8"/><rect x="58.80" y="237.58" width="3.83" height="2.89" rx="0.8"/><rect x="58.80" y="241.33" width="3.83" height="2.89" rx="0.8"/><rect x="58.80" y="245.08" width="3.83" height="2.89" rx="0.8"/><rect x="58.80" y="248.83" width="3.83" height="2.89" rx="0.8"/><rect x="58.80" y="252.58" width="3.83" height="2.89" rx="0.8"/><rect x="58.80" y="256.33" width="3.83" height="2.89" rx="0.8"/><rect x="58.80" y="260.08" width="3.83" height="2.89" rx="0.8"/><rect x="58.80" y="263.83" width="3.83" height="2.89" rx="0.8"/><rect x="58.80" y="267.58" width="3.83" height="2.89" rx="0.8"/><rect x="58.80" y="271.33" width="3.83" height="2.89" rx="0.8"/><rect x="58.80" y="275.08" width="3.83" height="2.89" rx="0.8"/><rect x="58.80" y="278.83" width="3.83" height="2.89" rx="0.8"/><rect x="58.80" y="282.58" width="3.83" height="2.89" rx="0.8"/><rect x="58.80" y="286.33" width="3.83" height="2.89" rx="0.8"/><rect x="58.80" y="290.08" width="3.83" height="2.89" rx="0.8"/><rect x="58.80" y="293.83" width="3.83" height="2.89" rx="0.8"/><rect x="58.80" y="297.58" width="3.83" height="2.89" rx="0.8"/><rect x="113.50" y="215.08" width="3.83" height="2.89" rx="0.8"/><rect x="113.50" y="218.83" width="3.83" height="2.89" rx="0.8"/><rect x="113.50" y="222.58" width="3.83" height="2.89" rx="0.8"/><rect x="113.50" y="226.33" width="3.83" height="2.89" rx="0.8"/><rect x="113.50" y="230.08" width="3.83" height="2.89" rx="0.8"/><rect x="113.50" y="233.83" width="3.83" height="2.89" rx="0.8"/><rect x="113.50" y="237.58" width="3.83" height="2.89" rx="0.8"/><rect x="113.50" y="241.33" width="3.83" height="2.89" rx="0.8"/><rect x="113.50" y="245.08" width="3.83" height="2.89" rx="0.8"/><rect x="113.50" y="248.83" width="3.83" height="2.89" rx="0.8"/><rect x="113.50" y="252.58" width="3.83" height="2.89" rx="0.8"/><rect x="113.50" y="256.33" width="3.83" height="2.89" rx="0.8"/><rect x="113.50" y="260.08" width="3.83" height="2.89" rx="0.8"/><rect x="113.50" y="263.83" width="3.83" height="2.89" rx="0.8"/><rect x="113.50" y="267.58" width="3.83" height="2.89" rx="0.8"/><rect x="113.50" y="271.33" width="3.83" height="2.89" rx="0.8"/><rect x="113.50" y="275.08" width="3.83" height="2.89" rx="0.8"/><rect x="113.50" y="278.83" width="3.83" height="2.89" rx="0.8"/><rect x="113.50" y="282.58" width="3.83" height="2.89" rx="0.8"/><rect x="113.50" y="286.33" width="3.83" height="2.89" rx="0.8"/><rect x="113.50" y="290.08" width="3.83" height="2.89" rx="0.8"/><rect x="113.50" y="293.83" width="3.83" height="2.89" rx="0.8"/><rect x="113.50" y="297.58" width="3.83" height="2.89" rx="0.8"/><rect x="167.80" y="222.58" width="3.83" height="2.89" rx="0.8"/><rect x="167.80" y="226.33" width="3.83" height="2.89" rx="0.8"/><rect x="167.80" y="230.08" width="3.83" height="2.89" rx="0.8"/><rect x="167.80" y="233.83" width="3.83" height="2.89" rx="0.8"/><rect x="167.80" y="237.58" width="3.83" height="2.89" rx="0.8"/><rect x="167.80" y="241.33" width="3.83" height="2.89" rx="0.8"/><rect x="167.80" y="245.08" width="3.83" height="2.89" rx="0.8"/><rect x="167.80" y="248.83" width="3.83" height="2.89" rx="0.8"/><rect x="167.80" y="252.58" width="3.83" height="2.89" rx="0.8"/><rect x="167.80" y="256.33" width="3.83" height="2.89" rx="0.8"/><rect x="167.80" y="260.08" width="3.83" height="2.89" rx="0.8"/><rect x="167.80" y="263.83" width="3.83" height="2.89" rx="0.8"/><rect x="167.80" y="267.58" width="3.83" height="2.89" rx="0.8"/><rect x="167.80" y="271.33" width="3.83" height="2.89" rx="0.8"/><rect x="167.80" y="275.08" width="3.83" height="2.89" rx="0.8"/><rect x="167.80" y="278.83" width="3.83" height="2.89" rx="0.8"/><rect x="167.80" y="282.58" width="3.83" height="2.89" rx="0.8"/><rect x="167.80" y="286.33" width="3.83" height="2.89" rx="0.8"/><rect x="167.80" y="290.08" width="3.83" height="2.89" rx="0.8"/><rect x="167.80" y="293.83" width="3.83" height="2.89" rx="0.8"/><rect x="167.80" y="297.58" width="3.83" height="2.89" rx="0.8"/><rect x="221.60" y="260.08" width="3.83" height="2.89" rx="0.8"/><rect x="221.60" y="263.83" width="3.83" height="2.89" rx="0.8"/><rect x="221.60" y="267.58" width="3.83" height="2.89" rx="0.8"/><rect x="221.60" y="271.33" width="3.83" height="2.89" rx="0.8"/><rect x="221.60" y="275.08" width="3.83" height="2.89" rx="0.8"/><rect x="221.60" y="278.83" width="3.83" height="2.89" rx="0.8"/><rect x="221.60" y="282.58" width="3.83" height="2.89" rx="0.8"/><rect x="221.60" y="286.33" width="3.83" height="2.89" rx="0.8"/><rect x="221.60" y="290.08" width="3.83" height="2.89" rx="0.8"/><rect x="221.60" y="293.83" width="3.83" height="2.89" rx="0.8"/><rect x="221.60" y="297.58" width="3.83" height="2.89" rx="0.8"/><rect x="276.50" y="286.33" width="3.83" height="2.89" rx="0.8"/><rect x="276.50" y="290.08" width="3.83" height="2.89" rx="0.8"/><rect x="276.50" y="293.83" width="3.83" height="2.89" rx="0.8"/><rect x="276.50" y="297.58" width="3.83" height="2.89" rx="0.8"/><rect x="330.80" y="245.08" width="3.83" height="2.89" rx="0.8"/><rect x="330.80" y="248.83" width="3.83" height="2.89" rx="0.8"/><rect x="330.80" y="252.58" width="3.83" height="2.89" rx="0.8"/><rect x="330.80" y="256.33" width="3.83" height="2.89" rx="0.8"/><rect x="330.80" y="260.08" width="3.83" height="2.89" rx="0.8"/><rect x="330.80" y="263.83" width="3.83" height="2.89" rx="0.8"/><rect x="330.80" y="267.58" width="3.83" height="2.89" rx="0.8"/><rect x="330.80" y="271.33" width="3.83" height="2.89" rx="0.8"/><rect x="330.80" y="275.08" width="3.83" height="2.89" rx="0.8"/><rect x="330.80" y="278.83" width="3.83" height="2.89" rx="0.8"/><rect x="330.80" y="282.58" width="3.83" height="2.89" rx="0.8"/><rect x="330.80" y="286.33" width="3.83" height="2.89" rx="0.8"/><rect x="330.80" y="290.08" width="3.83" height="2.89" rx="0.8"/><rect x="330.80" y="293.83" width="3.83" height="2.89" rx="0.8"/><rect x="330.80" y="297.58" width="3.83" height="2.89" rx="0.8"/><rect x="385.40" y="286.33" width="3.83" height="2.89" rx="0.8"/><rect x="385.40" y="290.08" width="3.83" height="2.89" rx="0.8"/><rect x="385.40" y="293.83" width="3.83" height="2.89" rx="0.8"/><rect x="385.40" y="297.58" width="3.83" height="2.89" rx="0.8"/><rect x="439.60" y="290.08" width="3.83" height="2.89" rx="0.8"/><rect x="439.60" y="293.83" width="3.83" height="2.89" rx="0.8"/><rect x="439.60" y="297.58" width="3.83" height="2.89" rx="0.8"/><rect x="493.70" y="290.08" width="3.83" height="2.89" rx="0.8"/><rect x="493.70" y="293.83" width="3.83" height="2.89" rx="0.8"/><rect x="493.70" y="297.58" width="3.83" height="2.89" rx="0.8"/></g><path d="M60.26 100.28h0.9M60.26 104.03h0.9M60.26 107.78h0.9M60.26 111.53h0.9M60.26 115.28h0.9M60.26 119.03h0.9M60.26 122.78h0.9M60.26 126.53h0.9M60.26 130.28h0.9M60.26 134.03h0.9M60.26 137.78h0.9M60.26 141.53h0.9M60.26 145.28h0.9M60.26 149.03h0.9M60.26 152.78h0.9M60.26 156.53h0.9M60.26 160.28h0.9M60.26 164.03h0.9M60.26 167.78h0.9M60.26 171.53h0.9M60.26 175.28h0.9M60.26 179.03h0.9M60.26 182.78h0.9M60.26 186.53h0.9M60.26 190.28h0.9M60.26 194.03h0.9M60.26 197.78h0.9M60.26 201.53h0.9M60.26 205.28h0.9M60.26 209.03h0.9M60.26 212.78h0.9M60.26 216.53h0.9M60.26 220.28h0.9M60.26 224.03h0.9M60.26 227.78h0.9M60.26 231.53h0.9M60.26 235.28h0.9M60.26 239.03h0.9M60.26 242.78h0.9M60.26 246.53h0.9M60.26 250.28h0.9M60.26 254.03h0.9M60.26 257.77h0.9M60.26 261.52h0.9M60.26 265.27h0.9M60.26 269.02h0.9M60.26 272.77h0.9M60.26 276.52h0.9M60.26 280.27h0.9M60.26 284.02h0.9M60.26 287.77h0.9M60.26 291.52h0.9M60.26 295.27h0.9M60.26 299.02h0.9M114.96 216.53h0.9M114.96 220.28h0.9M114.96 224.03h0.9M114.96 227.78h0.9M114.96 231.53h0.9M114.96 235.28h0.9M114.96 239.03h0.9M114.96 242.78h0.9M114.96 246.53h0.9M114.96 250.28h0.9M114.96 254.03h0.9M114.96 257.77h0.9M114.96 261.52h0.9M114.96 265.27h0.9M114.96 269.02h0.9M114.96 272.77h0.9M114.96 276.52h0.9M114.96 280.27h0.9M114.96 284.02h0.9M114.96 287.77h0.9M114.96 291.52h0.9M114.96 295.27h0.9M114.96 299.02h0.9M169.26 224.03h0.9M169.26 227.78h0.9M169.26 231.53h0.9M169.26 235.28h0.9M169.26 239.03h0.9M169.26 242.78h0.9M169.26 246.53h0.9M169.26 250.28h0.9M169.26 254.03h0.9M169.26 257.77h0.9M169.26 261.52h0.9M169.26 265.27h0.9M169.26 269.02h0.9M169.26 272.77h0.9M169.26 276.52h0.9M169.26 280.27h0.9M169.26 284.02h0.9M169.26 287.77h0.9M169.26 291.52h0.9M169.26 295.27h0.9M169.26 299.02h0.9M223.06 261.52h0.9M223.06 265.27h0.9M223.06 269.02h0.9M223.06 272.77h0.9M223.06 276.52h0.9M223.06 280.27h0.9M223.06 284.02h0.9M223.06 287.77h0.9M223.06 291.52h0.9M223.06 295.27h0.9M223.06 299.02h0.9M277.96 287.77h0.9M277.96 291.52h0.9M277.96 295.27h0.9M277.96 299.02h0.9M332.26 246.53h0.9M332.26 250.28h0.9M332.26 254.03h0.9M332.26 257.77h0.9M332.26 261.52h0.9M332.26 265.27h0.9M332.26 269.02h0.9M332.26 272.77h0.9M332.26 276.52h0.9M332.26 280.27h0.9M332.26 284.02h0.9M332.26 287.77h0.9M332.26 291.52h0.9M332.26 295.27h0.9M332.26 299.02h0.9M386.86 287.77h0.9M386.86 291.52h0.9M386.86 295.27h0.9M386.86 299.02h0.9M441.06 291.52h0.9M441.06 295.27h0.9M441.06 299.02h0.9M495.16 291.52h0.9M495.16 295.27h0.9M495.16 299.02h0.9" stroke="#aaa" stroke-width="0.8" fill="none"/></g>
<path d="M34.50 295.7V76.93H40.33V295.7M40.33 295.7V119.87H46.15V295.7M46.15 295.7V145.98H51.98V295.7M51.98 295.7V161.65H57.80V295.7M57.80 295.7V100.72H63.62V295.7M63.62 295.7V101.30H69.45V295.7M69.45 295.7V82.73H75.28V295.7M75.28 295.7V142.50H81.10V295.7M89.20 295.7V219.91H95.03V295.7M95.03 295.7V237.32H100.85V295.7M100.85 295.7V240.22H106.68V295.7M106.68 295.7V241.38H112.50V295.7M112.50 295.7V215.85H118.33V295.7M118.33 295.7V225.14H124.15V295.7M124.15 295.7V215.85H129.97V295.7M129.97 295.7V240.22H135.80V295.7M143.50 295.7V192.06H149.32V295.7M149.32 295.7V217.59H155.15V295.7M155.15 295.7V222.81H160.97V295.7M160.97 295.7V213.53H166.80V295.7M166.80 295.7V222.81H172.62V295.7M172.62 295.7V229.78H178.45V295.7M178.45 295.7V231.52H184.27V295.7M184.28 295.7V232.68H190.10V295.7M197.30 295.7V237.09H203.12V295.7M203.12 295.7V239.70H208.95V295.7M208.95 295.7V248.70H214.78V295.7M214.78 295.7V253.05H220.60V295.7M220.60 295.7V260.30H226.43V295.7M226.43 295.7V251.02H232.25V295.7M232.25 295.7V258.56H238.07V295.7M238.08 295.7V261.75H243.90V295.7M252.20 295.7V286.30H258.02V295.7M258.02 295.7V290.07H263.85V295.7M263.85 295.7V289.78H269.67V295.7M269.68 295.7V286.88H275.50V295.7M275.50 295.7V288.39H281.32V295.7M281.32 295.7V289.49H287.15V295.7M287.15 295.7V287.17H292.97V295.7M292.97 295.7V288.62H298.80V295.7M306.50 295.7V225.48H312.32V295.7M312.32 295.7V215.04H318.15V295.7M318.15 295.7V204.88H323.97V295.7M323.98 295.7V204.59H329.80V295.7M329.80 295.7V246.37H335.62V295.7M335.62 295.7V236.51H341.45V295.7M341.45 295.7V212.14H347.27V295.7M347.27 295.7V227.22H353.10V295.7M361.10 295.7V286.88H366.93V295.7M366.93 295.7V285.08H372.75V295.7M372.75 295.7V283.22H378.57V295.7M378.58 295.7V280.09H384.40V295.7M384.40 295.7V287.87H390.23V295.7M390.23 295.7V285.37H396.05V295.7M396.05 295.7V280.32H401.88V295.7M401.88 295.7V280.90H407.70V295.7M415.30 295.7V292.10H421.12V295.7M421.12 295.7V291.93H426.95V295.7M426.95 295.7V290.19H432.77V295.7M432.78 295.7V279.74H438.60V295.7M438.60 295.7V291.75H444.43V295.7M444.43 295.7V291.35H450.25V295.7M450.25 295.7V288.16H456.07V295.7M456.07 295.7V282.76H461.90V295.7M469.40 295.7V288.16H475.22V295.7M475.22 295.7V285.37H481.05V295.7M481.05 295.7V282.30H486.87V295.7M486.88 295.7V278.41H492.70V295.7M492.70 295.7V292.10H498.52V295.7M498.52 295.7V285.89H504.35V295.7M504.35 295.7V284.38H510.17V295.7M510.17 295.7V282.64H516.00V295.7" stroke="#000" stroke-width="1" fill="none"/>
<path d="M30.7 4.8V296.55" stroke="#000" stroke-width="1.6" fill="none"/>
<path d="M30 295.7H520" stroke="#000" stroke-width="1.7" fill="none"/>
<path d="M27.3 295.70H31" stroke="#000" stroke-width="1.5"/>
<text transform="translate(26.6 298.90) scale(0.97 1)" text-anchor="end" class="t">0</text>
<path d="M27.3 237.67H31" stroke="#000" stroke-width="1.5"/>
<text transform="translate(26.6 240.87) scale(0.97 1)" text-anchor="end" class="t">10</text>
<path d="M27.3 179.64H31" stroke="#000" stroke-width="1.5"/>
<text transform="translate(26.6 182.84) scale(0.97 1)" text-anchor="end" class="t">20</text>
<path d="M27.3 121.61H31" stroke="#000" stroke-width="1.5"/>
<text transform="translate(26.6 124.81) scale(0.97 1)" text-anchor="end" class="t">30</text>
<path d="M27.3 63.58H31" stroke="#000" stroke-width="1.5"/>
<text transform="translate(26.6 66.78) scale(0.97 1)" text-anchor="end" class="t">40</text>
<path d="M27.3 5.55H31" stroke="#000" stroke-width="1.5"/>
<text transform="translate(26.6 8.75) scale(0.97 1)" text-anchor="end" class="t">50</text>
<path d="M57.80 295.7V300.2" stroke="#000" stroke-width="1.3"/>
<text transform="translate(58.20 307.6) scale(0.97 1)" text-anchor="middle" class="t">blood</text>
<path d="M112.50 295.7V300.2" stroke="#000" stroke-width="1.3"/>
<text transform="translate(112.90 307.6) scale(0.97 1)" text-anchor="middle" class="t">lung</text>
<path d="M166.80 295.7V300.2" stroke="#000" stroke-width="1.3"/>
<text transform="translate(167.20 307.6) scale(0.97 1)" text-anchor="middle" class="t">liver</text>
<path d="M220.60 295.7V300.2" stroke="#000" stroke-width="1.3"/>
<text transform="translate(221.00 307.6) scale(0.97 1)" text-anchor="middle" class="t">spleen</text>
<path d="M275.50 295.7V300.2" stroke="#000" stroke-width="1.3"/>
<text transform="translate(275.90 307.6) scale(0.97 1)" text-anchor="middle" class="t">stomach</text>
<path d="M329.80 295.7V300.2" stroke="#000" stroke-width="1.3"/>
<text transform="translate(330.20 307.6) scale(0.97 1)" text-anchor="middle" class="t">kidney</text>
<path d="M384.40 295.7V300.2" stroke="#000" stroke-width="1.3"/>
<text transform="translate(384.80 307.6) scale(0.97 1)" text-anchor="middle" class="t">sm int</text>
<path d="M438.60 295.7V300.2" stroke="#000" stroke-width="1.3"/>
<text transform="translate(439.00 307.6) scale(0.97 1)" text-anchor="middle" class="t">colon</text>
<path d="M492.70 295.7V300.2" stroke="#000" stroke-width="1.3"/>
<text transform="translate(493.10 307.6) scale(0.97 1)" text-anchor="middle" class="t">tumor</text>
<text transform="translate(10.7 151.3) rotate(-90)" text-anchor="middle" class="yl">%ID/g</text>
<rect x="385.3" y="7.10" width="13.4" height="6.9" fill="#8c8c8c" stroke="#222" stroke-width="0.9"/>
<text transform="translate(405.9 13.60) scale(0.975 1)" class="lg">1F5-CHX (10 min)</text>
<rect x="385.3" y="19.60" width="13.4" height="6.9" fill="#666666" stroke="#222" stroke-width="0.9"/>
<text transform="translate(405.9 26.10) scale(0.975 1)" class="lg">1F5-CHX (45 min)</text>
<rect x="385.3" y="32.10" width="13.4" height="6.9" fill="#363636" stroke="#222" stroke-width="0.9"/>
<text transform="translate(405.9 38.60) scale(0.975 1)" class="lg">1F5-CHX (90 min)</text>
<rect x="385.3" y="44.60" width="13.4" height="6.9" fill="#e4e4e4" stroke="#222" stroke-width="0.9"/>
<text transform="translate(405.9 51.10) scale(0.975 1)" class="lg">1F5-CHX (180 min)</text>
<rect x="385.3" y="57.10" width="13.4" height="6.9" fill="none" stroke="#222" stroke-width="0.9"/>
<rect x="386.9" y="59.30" width="10.6" height="2.5" fill="url(#p5l)"/>
<text transform="translate(405.9 63.60) scale(0.975 1)" class="lg">HB8181-CHX (10 min)</text>
<rect x="385.3" y="69.60" width="13.4" height="6.9" fill="none" stroke="#222" stroke-width="0.9"/>
<text transform="translate(405.9 76.10) scale(0.975 1)" class="lg">HB8181-CHX (45 min)</text>
<rect x="385.3" y="82.10" width="13.4" height="6.9" fill="none" stroke="#222" stroke-width="0.9"/>
<text transform="translate(405.9 88.60) scale(0.975 1)" class="lg">HB8181-CHX (90 min)</text>
<rect x="385.3" y="94.60" width="13.4" height="6.9" fill="none" stroke="#222" stroke-width="0.9"/>
<text transform="translate(405.9 101.10) scale(0.975 1)" class="lg">HB8181-CHX (180 min)</text>
</svg>
</body></html>
